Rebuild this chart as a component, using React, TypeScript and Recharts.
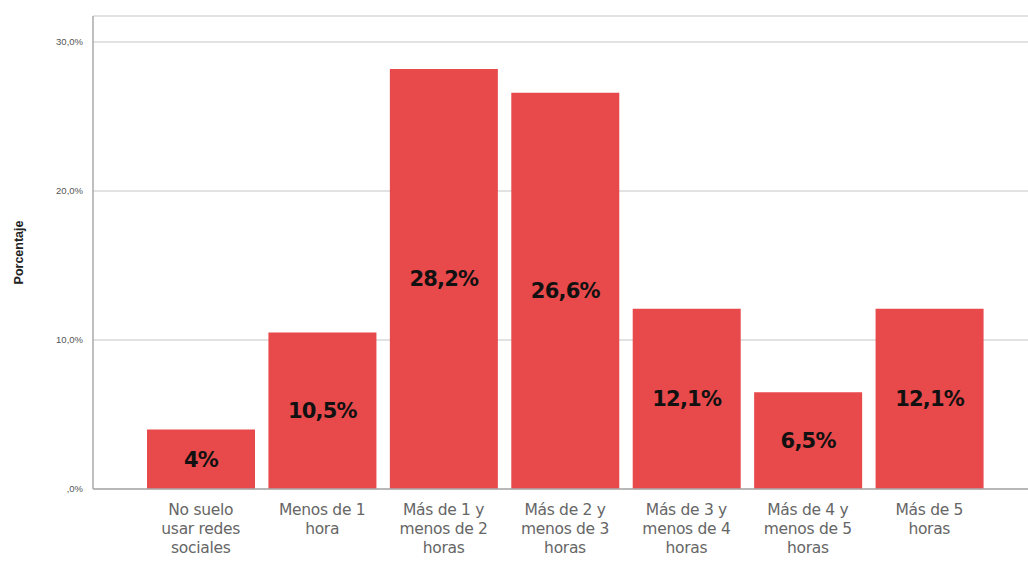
import { BarChart, Bar, XAxis, YAxis, CartesianGrid, LabelList, Label } from "recharts";

const categories = [
  "No suelo\nusar redes\nsociales",
  "Menos de 1\nhora",
  "Más de 1 y\nmenos de 2\nhoras",
  "Más de 2 y\nmenos de 3\nhoras",
  "Más de 3 y\nmenos de 4\nhoras",
  "Más de 4 y\nmenos de 5\nhoras",
  "Más de 5\nhoras",
];
const percentages = [4.0, 10.5, 28.2, 26.6, 12.1, 6.5, 12.1];
const barLabels = ["4%", "10,5%", "28,2%", "26,6%", "12,1%", "6,5%", "12,1%"];
const yTicks = [0, 10, 20, 30];
const yTickLabels = [",0%", "10,0%", "20,0%", "30,0%"];

const data = categories.map((name, i) => ({
  name,
  value: percentages[i],
  label: barLabels[i],
}));

function CategoryTick(props: any) {
  const { x, y, payload } = props;
  const lines = String(payload.value).split("\n");
  return (
    <text
      x={x}
      y={y}
      textAnchor="middle"
      fill="#666"
      fontSize={15.5}
      fontFamily="'DejaVu Sans', sans-serif"
      letterSpacing={-0.3}
    >
      {lines.map((line, i) => (
        <tspan key={i} x={x} dy={i === 0 ? 18 : 19}>
          {line}
        </tspan>
      ))}
    </text>
  );
}

export default function App() {
  return (
    <div style={{ position: "absolute", left: 0, top: 0, background: "#fff" }}>
      <BarChart
        width={1028}
        height={565}
        data={data}
        margin={{ top: 16, right: 0, bottom: 0, left: 33 }}
      >
        <CartesianGrid vertical={false} stroke="#d9d9d9" strokeWidth={1.5} />
        <XAxis
          dataKey="name"
          interval={0}
          padding={{ left: 47, right: 38 }}
          axisLine={{ stroke: "#aaa", strokeWidth: 1.5 }}
          tickLine={false}
          tick={<CategoryTick />}
          height={76}
        />
        <YAxis
          width={60}
          domain={[0, 31.75]}
          ticks={yTicks}
          allowDataOverflow
          tickFormatter={(v: number) => yTickLabels[yTicks.indexOf(v)]}
          axisLine={{ stroke: "#aaa", strokeWidth: 1.5 }}
          tickLine={false}
          tick={{ fontSize: 9.5, fill: "#555", fontFamily: "'Liberation Sans', Arial, sans-serif" }}
          tickMargin={4}
        >
          <Label
            value="Porcentaje"
            angle={-90}
            position="insideLeft"
            offset={-14}
            style={{
              fontSize: 12.5,
              fontWeight: "bold",
              fill: "#222",
              fontFamily: "'Liberation Sans', Arial, sans-serif",
              textAnchor: "middle",
            }}
          />
        </YAxis>
        <Bar dataKey="value" fill="#e8494b" barSize={108} isAnimationActive={false}>
          <LabelList
            dataKey="label"
            position="center"
            fill="#111"
            offset={0}
            style={{
              fontSize: 21,
              fontWeight: "bold",
              fontFamily: "'DejaVu Sans', sans-serif",
              letterSpacing: -0.8,
            }}
          />
        </Bar>
      </BarChart>
    </div>
  );
}
